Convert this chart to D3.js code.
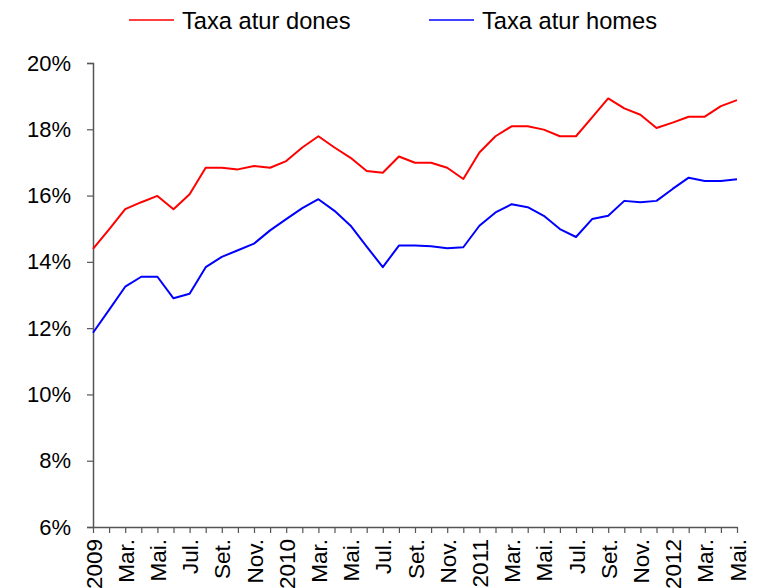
<!DOCTYPE html>
<html>
<head>
<meta charset="utf-8">
<script src="https://cdn.jsdelivr.net/npm/d3@7"></script>
<style>
  body { margin: 0; background: #fff; }
  svg { display: block; font-family: "Liberation Sans", Arial, sans-serif; }
</style>
</head>
<body>
<svg id="chart" width="760" height="588"></svg>
<script>
// monthly labels, Jan 2009 .. May 2012 (every other month gets a label)
const months = ["2009","Feb.","Mar.","Abr.","Mai.","Jun.","Jul.","Ago.","Set.","Oct.","Nov.","Des.",
                "2010","Feb.","Mar.","Abr.","Mai.","Jun.","Jul.","Ago.","Set.","Oct.","Nov.","Des.",
                "2011","Feb.","Mar.","Abr.","Mai.","Jun.","Jul.","Ago.","Set.","Oct.","Nov.","Des.",
                "2012","Feb.","Mar.","Abr.","Mai."];

const dones = [14.39, 14.98, 15.59, 15.8, 15.99, 15.59, 16.04, 16.84, 16.84, 16.79, 16.89, 16.84,
               17.04, 17.45, 17.79, 17.45, 17.14, 16.74, 16.69, 17.18, 16.99, 16.99, 16.84, 16.5,
               17.3, 17.79, 18.09, 18.09, 17.99, 17.79, 17.79, 18.36, 18.93, 18.63, 18.44, 18.04,
               18.2, 18.38, 18.38, 18.7, 18.88];

const homes = [11.86, 12.55, 13.25, 13.55, 13.55, 12.9, 13.04, 13.84, 14.15, 14.35, 14.55, 14.95,
               15.29, 15.62, 15.89, 15.54, 15.09, 14.46, 13.84, 14.49, 14.49, 14.47, 14.41, 14.44,
               15.09, 15.49, 15.74, 15.65, 15.39, 14.99, 14.75, 15.29, 15.39, 15.84, 15.8, 15.84,
               16.2, 16.54, 16.44, 16.44, 16.49];

const yTicks = [6, 8, 10, 12, 14, 16, 18, 20];

const series = [
  {name: "Taxa atur dones", values: dones, color: "#ff0000"},
  {name: "Taxa atur homes", values: homes, color: "#0000ff"}
];

const svg = d3.select("svg#chart"),
  margin = {top: 63, right: 23, bottom: 61, left: 93},
  width = svg.attr("width") - margin.left - margin.right,
  height = svg.attr("height") - margin.top - margin.bottom,
  g = svg.append("g").attr("transform", `translate(${margin.left},${margin.top})`);

const x = d3.scaleLinear().domain([0, months.length - 1]).range([0, width]);
const y = d3.scaleLinear().domain([6, 20]).range([height, 0]);

// y axis
const yAxis = d3.axisLeft(y)
  .tickValues(yTicks)
  .tickSize(6)
  .tickPadding(16)
  .tickFormat(d => d + "%");

g.append("g")
  .attr("class", "axis axis--y")
  .call(yAxis)
  .call(a => a.select(".domain").attr("stroke", "#555").attr("stroke-width", 1.5))
  .call(a => a.selectAll(".tick line").attr("stroke", "#555").attr("stroke-width", 1.2))
  .call(a => a.selectAll("text")
    .attr("fill", "#000")
    .style("font-size", "22px")
    .style("font-family", "'Liberation Sans', Arial, sans-serif"));

// x axis: a tick every month, labels every other month
const xAxis = d3.axisBottom(x)
  .tickValues(d3.range(months.length))
  .tickSize(6)
  .tickSizeOuter(0)
  .tickFormat(i => i % 2 === 0 ? months[i] : "");

g.append("g")
  .attr("class", "axis axis--x")
  .attr("transform", `translate(0,${height})`)
  .call(xAxis)
  .call(a => a.select(".domain").attr("stroke", "#555").attr("stroke-width", 1.5))
  .call(a => a.selectAll(".tick line").attr("stroke", "#555").attr("stroke-width", 1.2))
  .call(a => a.selectAll("text")
    .attr("fill", "#000")
    .style("font-size", "22.5px")
    .style("font-family", "'Liberation Sans', Arial, sans-serif")
    .attr("transform", "rotate(-90)")
    .attr("text-anchor", "end")
    .attr("x", -12)
    .attr("y", 0)
    .attr("dy", "0.36em"));

// lines
const line = d3.line()
  .x((d, i) => x(i))
  .y(d => y(d));

g.selectAll(".line")
  .data(series)
  .enter()
  .append("path")
  .attr("class", "line")
  .attr("fill", "none")
  .attr("stroke", d => d.color)
  .attr("stroke-width", 2)
  .attr("stroke-linejoin", "round")
  .attr("d", d => line(d.values));

// legend
const legend = svg.append("g").attr("class", "legend");
const legendX = [129, 429];
series.forEach((s, i) => {
  const lg = legend.append("g").attr("transform", `translate(${legendX[i]},20)`);
  lg.append("line")
    .attr("x1", 0).attr("x2", 45)
    .attr("y1", 0).attr("y2", 0)
    .attr("stroke", s.color)
    .attr("stroke-width", 1.5);
  lg.append("text")
    .attr("x", 53)
    .attr("dy", "0.36em")
    .style("font-size", "23.7px")
    .text(s.name);
});
</script>
</body>
</html>
